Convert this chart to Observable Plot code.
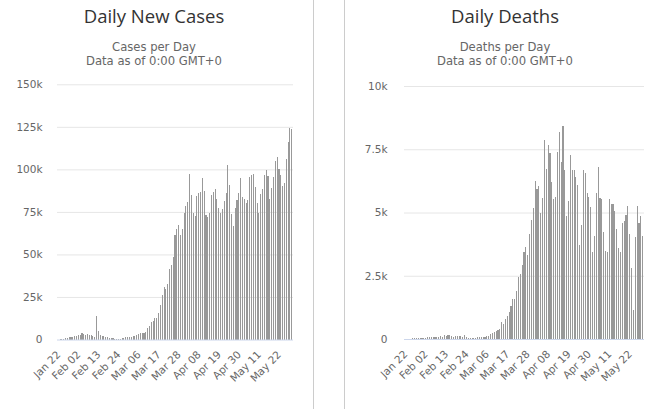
<!DOCTYPE html>
<html>
<head>
<meta charset="utf-8">
<script src="https://cdn.jsdelivr.net/npm/d3@7"></script>
<script src="https://cdn.jsdelivr.net/npm/@observablehq/plot@0.6"></script>
<style>
  html, body { margin: 0; padding: 0; background: #fff; }
  body { width: 658px; height: 409px; overflow: hidden; position: relative; font-family: "Open Sans", sans-serif; }
  .vline { position: absolute; top: 0; width: 1px; height: 409px; background: #cccccc; }
  .title { position: absolute; width: 300px; text-align: center; font-size: 18.5px; line-height: 18px; color: #333333; white-space: nowrap; }
  .sub { position: absolute; width: 300px; text-align: center; font-family: "DejaVu Sans", sans-serif; font-size: 11.6px; line-height: 12px; color: #666666; white-space: nowrap; }
  .chart { position: absolute; top: 70px; }
</style>
</head>
<body>
<div class="vline" style="left:313px"></div>
<div class="vline" style="left:344px"></div>

<div class="title" style="left:4px; top:7px">Daily New Cases</div>
<div class="sub" style="left:4px; top:40.7px">Cases per Day</div>
<div class="sub" style="left:4px; top:55.3px">Data as of 0:00 GMT+0</div>
<div class="chart" id="cases" style="left:0px"></div>

<div class="title" style="left:355px; top:7px">Daily Deaths</div>
<div class="sub" style="left:355px; top:40.7px">Deaths per Day</div>
<div class="sub" style="left:355px; top:55.3px">Data as of 0:00 GMT+0</div>
<div class="chart" id="deaths" style="left:344px"></div>

<script>
// Day categories start on this date, one per value
const firstDay = "2020-01-22";

const tickLabels = ["Jan 22","Feb 02","Feb 13","Feb 24","Mar 06","Mar 17","Mar 28","Apr 08","Apr 19","Apr 30","May 11","May 22"];

const casesTicks = [0, 25000, 50000, 75000, 100000, 125000, 150000];
const deathsTicks = [0, 2500, 5000, 7500, 10000];

// Daily new cases
const cases = [
  0, 100, 290, 490, 680, 800, 1500, 1500, 1500, 2000,
  2000, 2600, 2600, 3800, 3200, 2800, 3200, 2600, 2600, 2000,
  1500, 14000, 5000, 2600, 2000, 2000, 1500, 1500, 600, 600,
  600, 200, 200, 200, 300, 700, 700, 1300, 1300, 1300,
  1500, 1900, 1900, 2900, 3300, 3900, 3900, 3900, 4500, 6800,
  8000, 10200, 11000, 12700, 12700, 15600, 20400, 26000, 31000, 29600,
  32400, 41600, 44000, 48600, 61400, 65000, 67400, 61400, 65000, 74600,
  78200, 81000, 97400, 85000, 74600, 72800, 84200, 86000, 86600, 95000,
  87000, 73400, 72000, 74600, 85000, 86600, 88400, 82400, 77000, 74600,
  76700, 81500, 86300, 102600, 90700, 74000, 66900, 77200, 82000, 86000,
  94800, 83500, 82300, 80000, 82000, 95400, 96600, 97200, 89500, 80000,
  74600, 85300, 88300, 96600, 99600, 96000, 82300, 88900, 95400, 105000,
  107000, 100000, 96600, 90000, 91900, 106000, 116000, 124600, 123500
];

// Daily deaths
const deaths = [
  0, 8, 16, 15, 24, 26, 26, 38, 43, 46,
  45, 57, 64, 66, 72, 73, 86, 89, 97, 108,
  97, 146, 121, 143, 142, 105, 98, 136, 115, 118,
  109, 97, 150, 71, 52, 29, 44, 37, 58, 67,
  72, 84, 80, 98, 102, 130, 180, 240, 290, 320,
  340, 410, 680, 600, 790, 920, 1080, 1320, 1600, 1600,
  1890, 2450, 2580, 2920, 3420, 3630, 3320, 4160, 4710, 5160,
  6240, 5920, 6030, 4970, 5580, 7850, 6700, 7650, 7350, 6200,
  5540, 5600, 7380, 8180, 7000, 8420, 6680, 4850, 5450, 7280,
  6680, 6680, 6390, 6080, 3710, 4510, 6670, 6550, 5760, 5600,
  5210, 3430, 4070, 5760, 6790, 5570, 5530, 4220, 3470, 3430,
  5530, 5330, 5330, 5050, 4340, 3600, 3430, 4580, 4660, 4890,
  5250, 4140, 2800, 1140, 4030, 5250, 4580, 4850, 4070
];

const start = new Date(firstDay + "T00:00:00Z");
const fmtDay = d3.utcFormat("%b %d");
const dayLabels = d3.utcDay.range(start, d3.utcDay.offset(start, cases.length)).map(fmtDay);
const fmtK = d => d === 0 ? "0" : (d / 1000) + "k";

function makeChart(values, yTicks, opts) {
  const data = dayLabels.map((d, i) => ({day: d, v: values[i]}));
  return Plot.plot({
    width: opts.width,
    height: 339,
    marginLeft: opts.mL,
    marginRight: opts.mR,
    marginTop: opts.mT,
    marginBottom: opts.mB,
    style: {fontFamily: "'DejaVu Sans', sans-serif", fontSize: "10.5px", background: "transparent", overflow: "visible", color: "#666"},
    x: {type: "band", domain: dayLabels, padding: 0.4, label: null},
    y: {domain: [0, yTicks[yTicks.length - 1]], label: null},
    marks: [
      Plot.gridY(yTicks.filter(t => t > 0), {stroke: "#e6e6e6", strokeOpacity: 1}),
      Plot.barY(data, {x: "day", y: "v", fill: "#999999", shapeRendering: "crispEdges"}),
      Plot.ruleY([0], {stroke: "#ccd6eb"}),
      Plot.axisY({ticks: yTicks, tickFormat: fmtK, tickSize: 0, tickPadding: opts.yPad, fill: "#666666", fontSize: 10.5, label: null}),
      Plot.axisX({ticks: tickLabels, tickRotate: -45, tickSize: 0, tickPadding: 13, fill: "#666666", fontSize: 10.5, label: null})
    ]
  });
}

document.getElementById("cases").append(
  makeChart(cases, casesTicks, {width: 313, mL: 57, mR: 20, mT: 14.3, mB: 69.5, yPad: 15})
);
document.getElementById("deaths").append(
  makeChart(deaths, deathsTicks, {width: 314, mL: 60, mR: 14, mT: 16, mB: 70, yPad: 17})
);
</script>
</body>
</html>
